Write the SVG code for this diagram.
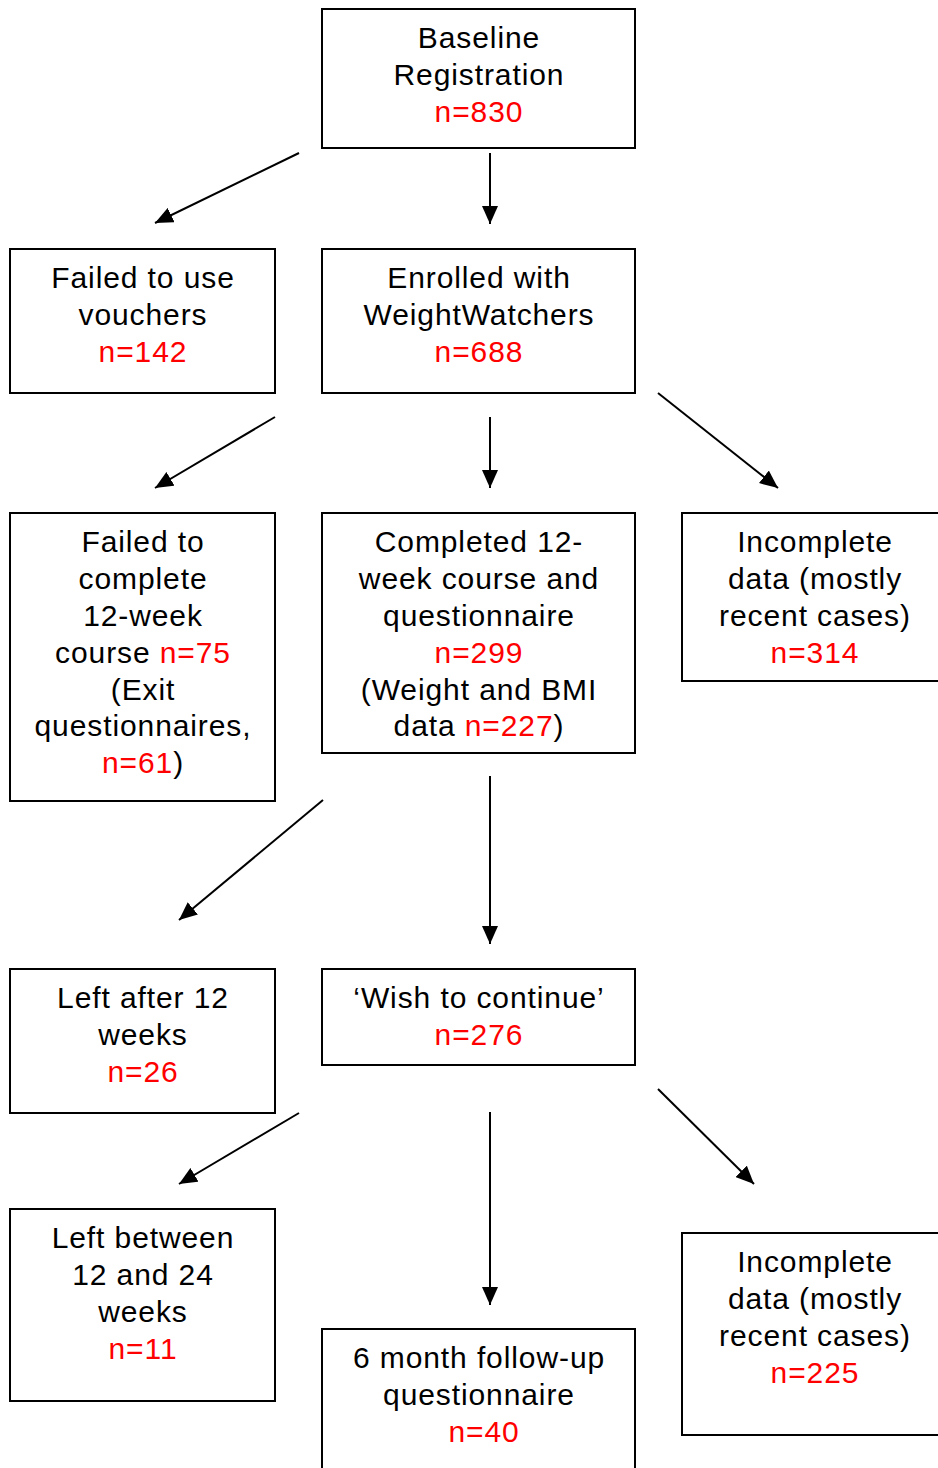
<svg xmlns="http://www.w3.org/2000/svg" width="938" height="1468" viewBox="0 0 938 1468">
<style>
.box{fill:#fff;stroke:#000;stroke-width:2}
text{font-family:"Liberation Sans",Arial,sans-serif;font-size:30px;letter-spacing:0.9px;fill:#000;text-anchor:middle}
.r{fill:#ff0000}
.c line{stroke:#000;stroke-width:2;marker-end:url(#ah)}
</style>
<defs>
<marker id="ah" markerUnits="userSpaceOnUse" markerWidth="20" markerHeight="16" refX="18" refY="8" orient="auto">
<path d="M0,0 L18,8 L0,16 Z" fill="#000"/>
</marker>
</defs>
<rect width="938" height="1468" fill="#fff"/>
<g class="c" id="connectors">
<line x1="299" y1="153" x2="155" y2="223"/>
<line x1="490" y1="153" x2="490" y2="224"/>
<line x1="275" y1="417" x2="155" y2="488"/>
<line x1="490" y1="417" x2="490" y2="488"/>
<line x1="658" y1="393" x2="778" y2="488"/>
<line x1="323" y1="800" x2="179" y2="920"/>
<line x1="490" y1="776" x2="490" y2="944"/>
<line x1="299" y1="1113" x2="179" y2="1184"/>
<line x1="490" y1="1112" x2="490" y2="1305"/>
<line x1="658" y1="1089" x2="754" y2="1184"/>
</g>
<g id="baseline">
<rect class="box" x="322" y="9" width="313" height="139"/>
<text x="479" y="48">Baseline</text>
<text x="479" y="85">Registration</text>
<text x="479" y="122" class="r">n=830</text>
</g>
<g id="failed-vouchers">
<rect class="box" x="10" y="249" width="265" height="144"/>
<text x="143" y="288">Failed to use</text>
<text x="143" y="325">vouchers</text>
<text x="143" y="362" class="r">n=142</text>
</g>
<g id="enrolled">
<rect class="box" x="322" y="249" width="313" height="144"/>
<text x="479" y="288">Enrolled with</text>
<text x="479" y="325">WeightWatchers</text>
<text x="479" y="362" class="r">n=688</text>
</g>
<g id="failed-complete">
<rect class="box" x="10" y="513" width="265" height="288"/>
<text x="143" y="552">Failed to</text>
<text x="143" y="589">complete</text>
<text x="143" y="626">12-week</text>
<text x="143" y="663">course <tspan class="r">n=75</tspan></text>
<text x="143" y="700">(Exit</text>
<text x="143" y="736">questionnaires,</text>
<text x="143" y="773"><tspan class="r">n=61</tspan>)</text>
</g>
<g id="completed">
<rect class="box" x="322" y="513" width="313" height="240"/>
<text x="479" y="552">Completed 12-</text>
<text x="479" y="589">week course and</text>
<text x="479" y="626">questionnaire</text>
<text x="479" y="663" class="r">n=299</text>
<text x="479" y="700">(Weight and BMI</text>
<text x="479" y="736">data <tspan class="r">n=227</tspan>)</text>
</g>
<g id="incomplete-314">
<rect class="box" x="682" y="513" width="264" height="168"/>
<text x="815" y="552">Incomplete</text>
<text x="815" y="589">data (mostly</text>
<text x="815" y="626">recent cases)</text>
<text x="815" y="663" class="r">n=314</text>
</g>
<g id="left-12">
<rect class="box" x="10" y="969" width="265" height="144"/>
<text x="143" y="1008">Left after 12</text>
<text x="143" y="1045">weeks</text>
<text x="143" y="1082" class="r">n=26</text>
</g>
<g id="wish">
<rect class="box" x="322" y="969" width="313" height="96"/>
<text x="479" y="1008">‘Wish to continue’</text>
<text x="479" y="1045" class="r">n=276</text>
</g>
<g id="left-12-24">
<rect class="box" x="10" y="1209" width="265" height="192"/>
<text x="143" y="1248">Left between</text>
<text x="143" y="1285">12 and 24</text>
<text x="143" y="1322">weeks</text>
<text x="143" y="1359" class="r">n=11</text>
</g>
<g id="followup">
<rect class="box" x="322" y="1329" width="313" height="150"/>
<text x="479" y="1368">6 month follow-up</text>
<text x="479" y="1405">questionnaire</text>
<text x="484" y="1442" class="r">n=40</text>
</g>
<g id="incomplete-225">
<rect class="box" x="682" y="1233" width="264" height="202"/>
<text x="815" y="1272">Incomplete</text>
<text x="815" y="1309">data (mostly</text>
<text x="815" y="1346">recent cases)</text>
<text x="815" y="1383" class="r">n=225</text>
</g>
</svg>
